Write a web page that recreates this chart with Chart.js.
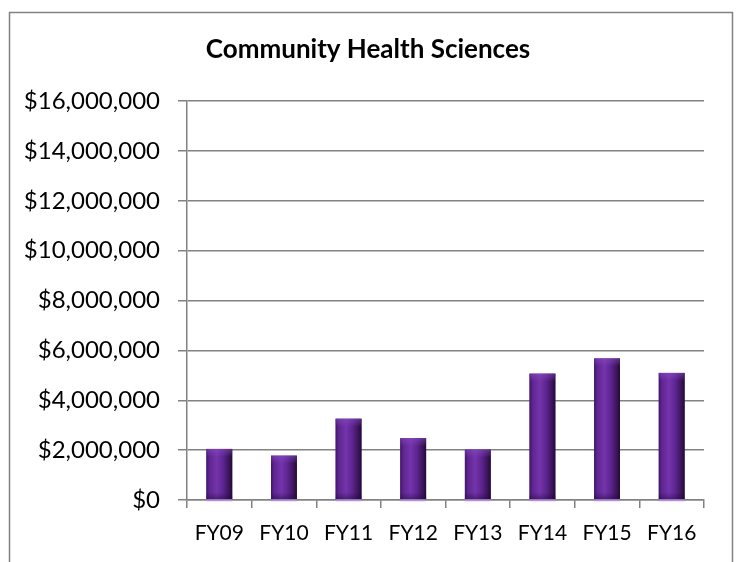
<!DOCTYPE html>
<html>
<head>
<meta charset="utf-8">
<script src="https://cdn.jsdelivr.net/npm/chart.js@4"></script>
<style>
  html, body { margin: 0; padding: 0; background: #ffffff; }
  #wrap { width: 738px; height: 562px; }
</style>
</head>
<body>
<div id="wrap"><canvas id="c" width="738" height="562"></canvas></div>
<script>
const chartTitle = "Community Health Sciences";
const categories = ["FY09", "FY10", "FY11", "FY12", "FY13", "FY14", "FY15", "FY16"];
const funding = [2050000, 1780000, 3260000, 2480000, 2020000, 5070000, 5680000, 5100000];
const yTicks = [0, 2000000, 4000000, 6000000, 8000000, 10000000, 12000000, 14000000, 16000000];

const FONT = "Lato, 'Open Sans', sans-serif";
const GRID = "#828282";

const framePlugin = {
  id: "frame",
  beforeDraw(chart) {
    const ctx = chart.ctx;
    ctx.save();
    ctx.fillStyle = "#ffffff";
    ctx.fillRect(0, 0, chart.width, chart.height);
    ctx.strokeStyle = GRID;
    ctx.lineWidth = 1.5;
    ctx.strokeRect(9.5, 12.5, 723, 620);
    ctx.restore();
  },
  afterLayout(chart) {
    // let the y tick labels extend into the left layout padding without clipping
    const y = chart.scales.y;
    y.left = 0;
  }
};

const bevelPlugin = {
  id: "bevel",
  afterDatasetsDraw(chart) {
    const ctx = chart.ctx;
    const meta = chart.getDatasetMeta(0);
    ctx.save();
    meta.data.forEach((bar) => {
      const p = bar.getProps(["x", "y", "base", "width"], true);
      const left = p.x - p.width / 2;
      const g = ctx.createLinearGradient(left, 0, left + p.width, 0);
      g.addColorStop(0, "#3e1763");
      g.addColorStop(0.12, "#5f2592");
      g.addColorStop(0.4, "#7434aa");
      g.addColorStop(0.65, "#5d2490");
      g.addColorStop(0.88, "#3a1458");
      g.addColorStop(1, "#220a36");
      ctx.fillStyle = g;
      ctx.fillRect(left, p.y, p.width, p.base - p.y);
      const t = ctx.createLinearGradient(0, p.y, 0, p.y + 8);
      t.addColorStop(0, "rgba(140,80,200,0.5)");
      t.addColorStop(1, "rgba(140,80,200,0)");
      ctx.fillStyle = t;
      ctx.fillRect(left, p.y, p.width, 8);
      const b = ctx.createLinearGradient(0, p.base - 7, 0, p.base);
      b.addColorStop(0, "rgba(30,8,50,0)");
      b.addColorStop(1, "rgba(30,8,50,0.45)");
      ctx.fillStyle = b;
      ctx.fillRect(left, p.base - 7, p.width, 7);
      ctx.fillStyle = "rgba(180,140,230,0.8)";
      ctx.fillRect(left, p.base, p.width, 2);
    });
    ctx.restore();
  }
};

new Chart(document.getElementById("c"), {
  type: "bar",
  data: {
    labels: categories,
    datasets: [{
      data: funding,
      backgroundColor: "#6a2a9e",
      borderWidth: 0,
      categoryPercentage: 1.0,
      barPercentage: 0.4
    }]
  },
  options: {
    responsive: false,
    animation: false,
    devicePixelRatio: 1,
    layout: { padding: { left: 32, right: 34, top: 0, bottom: 0 } },
    plugins: {
      legend: { display: false },
      tooltip: { enabled: false },
      title: {
        display: true,
        text: chartTitle,
        color: "#000000",
        font: { family: FONT, size: 26, weight: "bold" },
        padding: { top: 34, bottom: 36 }
      }
    },
    scales: {
      x: {
        offset: true,
        grid: { display: true, drawOnChartArea: false, drawTicks: true, tickLength: 8, color: GRID, lineWidth: 1.5, offset: true },
        border: { display: true, color: GRID, width: 1.5 },
        ticks: { color: "#000000", padding: 13, font: { family: FONT, size: 21 }, maxRotation: 0 },
        afterFit(s) { s.height = 62; }
      },
      y: {
        min: 0,
        max: 16000000,
        afterBuildTicks(s) { s.ticks = yTicks.map(v => ({ value: v })); },
        grid: { color: GRID, lineWidth: 1.5, drawTicks: true, tickLength: 9 },
        border: { display: true, color: GRID, width: 1.5 },
        ticks: {
          color: "#000000",
          padding: 18,
          font: { family: FONT, size: 24 },
          callback: (v) => "$" + Number(v).toLocaleString("en-US")
        },
        afterFit(s) { s.width = 155; }
      }
    }
  },
  plugins: [framePlugin, bevelPlugin]
});
</script>
</body>
</html>
